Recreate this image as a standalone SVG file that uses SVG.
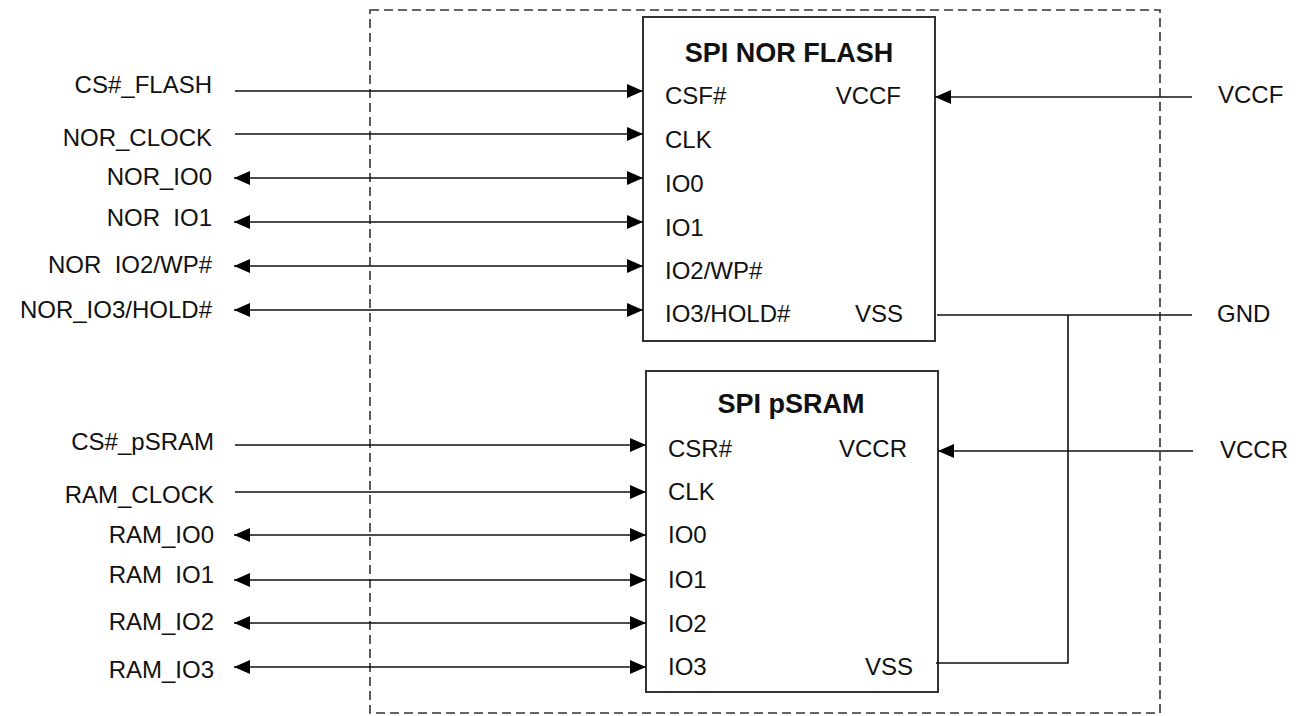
<svg xmlns="http://www.w3.org/2000/svg" width="1296" height="716" viewBox="0 0 1296 716">
<style>
text{font-family:"Liberation Sans",Arial,sans-serif;font-size:24px;fill:#111;white-space:pre}
.t{font-weight:bold;font-size:27px;text-anchor:middle}
.r{text-anchor:end}
.box{fill:#fff;stroke:#333;stroke-width:2}
.w{stroke:#111;stroke-width:1.6;fill:none}
.d{fill:none;stroke:#333;stroke-width:1.6;stroke-dasharray:9 5}
</style>
<defs>
<marker id="a" markerUnits="userSpaceOnUse" markerWidth="16" markerHeight="14" refX="16" refY="7" orient="auto-start-reverse" viewBox="0 0 16 14">
<path d="M0,0L16,7L0,14z" fill="#000"/>
</marker>
</defs>
<rect class="d" x="370" y="10" width="790" height="703"/>
<g id="nor">
<rect class="box" x="643" y="17" width="292" height="324"/>
<text class="t" x="789" y="62">SPI NOR FLASH</text>
<text x="665" y="104">CSF#</text>
<text x="665" y="148">CLK</text>
<text x="665" y="192">IO0</text>
<text x="665" y="236">IO1</text>
<text x="665" y="279">IO2/WP#</text>
<text x="665" y="322">IO3/HOLD#</text>
<text class="r" x="901" y="104">VCCF</text>
<text class="r" x="903" y="322">VSS</text>
</g>
<g id="psram">
<rect class="box" x="646" y="371" width="292" height="321"/>
<text class="t" x="791" y="413">SPI pSRAM</text>
<text x="668" y="457">CSR#</text>
<text x="668" y="500">CLK</text>
<text x="668" y="543">IO0</text>
<text x="668" y="588">IO1</text>
<text x="668" y="632">IO2</text>
<text x="668" y="675">IO3</text>
<text class="r" x="907" y="457">VCCR</text>
<text class="r" x="913" y="675">VSS</text>
</g>
<g id="labels">
<text class="r" x="212" y="93">CS#_FLASH</text>
<text class="r" x="212" y="146">NOR_CLOCK</text>
<text class="r" x="212" y="185">NOR_IO0</text>
<text class="r" x="212" y="226">NOR  IO1</text>
<text class="r" x="212" y="273">NOR  IO2/WP#</text>
<text class="r" x="212" y="318">NOR_IO3/HOLD#</text>
<text class="r" x="214" y="450">CS#_pSRAM</text>
<text class="r" x="214" y="503">RAM_CLOCK</text>
<text class="r" x="214" y="543">RAM_IO0</text>
<text class="r" x="214" y="583">RAM  IO1</text>
<text class="r" x="214" y="630">RAM_IO2</text>
<text class="r" x="214" y="678">RAM_IO3</text>
<text x="1218" y="103">VCCF</text>
<text x="1217" y="322">GND</text>
<text x="1220" y="458">VCCR</text>
</g>
<g id="connectors">
<line class="w" x1="235" y1="91" x2="643" y2="91" marker-end="url(#a)"/>
<line class="w" x1="235" y1="134" x2="643" y2="134" marker-end="url(#a)"/>
<line class="w" x1="234" y1="178" x2="643" y2="178" marker-start="url(#a)" marker-end="url(#a)"/>
<line class="w" x1="234" y1="222" x2="643" y2="222" marker-start="url(#a)" marker-end="url(#a)"/>
<line class="w" x1="234" y1="266" x2="643" y2="266" marker-start="url(#a)" marker-end="url(#a)"/>
<line class="w" x1="234" y1="310" x2="643" y2="310" marker-start="url(#a)" marker-end="url(#a)"/>
<line class="w" x1="235" y1="445" x2="646" y2="445" marker-end="url(#a)"/>
<line class="w" x1="235" y1="492" x2="646" y2="492" marker-end="url(#a)"/>
<line class="w" x1="234" y1="535" x2="646" y2="535" marker-start="url(#a)" marker-end="url(#a)"/>
<line class="w" x1="234" y1="580" x2="646" y2="580" marker-start="url(#a)" marker-end="url(#a)"/>
<line class="w" x1="234" y1="623" x2="646" y2="623" marker-start="url(#a)" marker-end="url(#a)"/>
<line class="w" x1="234" y1="667" x2="646" y2="667" marker-start="url(#a)" marker-end="url(#a)"/>
<line class="w" x1="1192" y1="97" x2="935" y2="97" marker-end="url(#a)"/>
<line class="w" x1="1193" y1="451" x2="938" y2="451" marker-end="url(#a)"/>
<line class="w" x1="937" y1="315" x2="1192" y2="315"/>
<polyline class="w" points="936,663 1068,663 1068,315"/>
</g>
</svg>
